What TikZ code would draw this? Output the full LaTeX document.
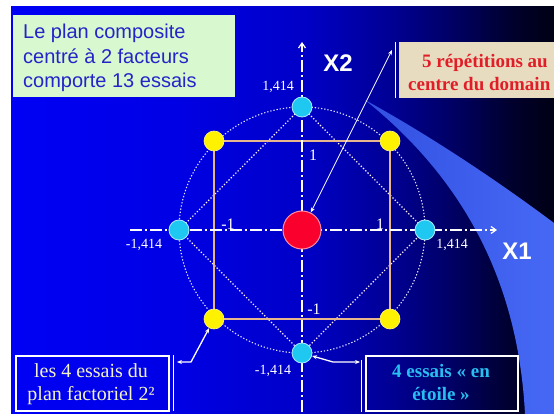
\documentclass[tikz,border=0pt]{standalone}
\usepackage{fontspec}
\setmainfont{Liberation Serif}
\newfontfamily\sansA{Liberation Sans}
\usetikzlibrary{arrows.meta}
\definecolor{swA}{RGB}{50,80,225}
\definecolor{swB}{RGB}{70,105,245}
\definecolor{mint}{RGB}{216,248,208}
\definecolor{introcol}{RGB}{36,36,200}
\definecolor{beige}{RGB}{232,220,192}
\definecolor{redtxt}{RGB}{225,30,40}
\definecolor{tan}{RGB}{232,182,140}
\definecolor{cyanC}{RGB}{30,200,240}
\definecolor{cyanL}{RGB}{170,235,255}
\definecolor{redC}{RGB}{250,0,45}
\definecolor{redL}{RGB}{255,140,160}
\definecolor{ltyel}{RGB}{242,242,196}
\definecolor{cyantxt}{RGB}{40,190,240}
\pgfdeclarehorizontalshading{bgshade}{100bp}{rgb(0bp)=(0,0,0.96); rgb(25bp)=(0,0,0.96); rgb(40bp)=(0,0,0.90); rgb(52bp)=(0,0,0.78); rgb(60bp)=(0,0,0.58); rgb(66bp)=(0,0,0.38); rgb(71bp)=(0,0,0.18); rgb(75bp)=(0,0,0.08); rgb(100bp)=(0,0,0.08)}
\tikzset{
  axisline/.style={white, line width=1.2pt, dash pattern=on 12pt off 3pt on 2pt off 3pt, -{Straight Barb[length=5pt,width=7pt]}},
  dotc/.style={white!90!blue, line width=1.1pt, dash pattern=on 1.3pt off 1.9pt},
  diam/.style={white!75!pink, line width=1.1pt, dash pattern=on 1.3pt off 1.9pt},
  sq/.style={tan, line width=1.3pt},
  yel/.style={circle, fill=yellow, draw=yellow!50!white, line width=0.6pt, minimum size=20pt, inner sep=0pt},
  cya/.style={circle, fill=cyanC, draw=cyanL, line width=0.8pt, minimum size=20pt, inner sep=0pt},
  redpt/.style={circle, fill=redC, draw=redL, line width=1pt, minimum size=38pt, inner sep=0pt},
  lab/.style={text=white, font=\fontsize{14}{14}\selectfont, inner sep=0pt},
  unit/.style={text=white, font=\fontsize{16}{16}\selectfont, inner sep=0pt},
  axl/.style={text=white, font=\sansA\bfseries\fontsize{24}{24}\selectfont, inner sep=0pt},
  conn/.style={white, line width=#1, {Stealth[length=5pt,width=4pt]}-{Stealth[length=5pt,width=4pt]}},
  introbox/.style={fill=mint, minimum width=222pt, minimum height=82pt, inner sep=0pt, anchor=north west},
  introtxt/.style={text=introcol, font=\sansA\fontsize{20}{24.5}\selectfont, align=left, inner sep=0pt, anchor=base west},
  repbox/.style={fill=beige, minimum width=170pt, minimum height=56pt, inner sep=0pt, anchor=north west},
  reptxt/.style={text=redtxt, font=\bfseries\fontsize{19}{19}\selectfont, inner sep=0pt},
  lowbox/.style={draw=white, line width=1.5pt, minimum width=#1, minimum height=55pt, inner sep=0pt, anchor=north west},
  facttxt/.style={text=ltyel, font=\fontsize{20}{23}\selectfont, align=center, inner sep=0pt, anchor=base},
  startxt/.style={text=cyantxt, font=\bfseries\fontsize{19}{23}\selectfont, align=center, inner sep=0pt, anchor=base},
}
\begin{document}
\begin{tikzpicture}[x=1pt,y=-1pt]
\useasboundingbox (0,0) rectangle (554,414);
\clip (0,0) rectangle (554,414);
\fill[white] (0,0) rectangle (554,414);
\shade[shading=bgshade] (11,7) rectangle (554,414);
\shade[left color=swA, right color=swB] (365,100) .. controls (420,130) and (490,175) .. (554,223) -- (554,414) -- (525,414) .. controls (520,320) and (490,200) .. (365,100) -- cycle;

% geometry
\coordinate (O) at (302,230);
\coordinate (pTL) at (214,141);
\coordinate (pTR) at (390,141);
\coordinate (pBL) at (214,319);
\coordinate (pBR) at (390,319);
\coordinate (pT) at (302,107);
\coordinate (pB) at (302,353);
\coordinate (pL) at (179,230);
\coordinate (pR) at (425,230);
\coordinate (axL) at (130,230);
\coordinate (axR) at (497,230);
\coordinate (axB) at (302,412);
\coordinate (axT) at (302,42);

\draw[dotc] (O) circle[radius=123pt];
\draw[diam] (pT) -- (pR) -- (pB) -- (pL) -- cycle;
\draw[sq] (pTL) -- (pTR) -- (pBR) -- (pBL) -- cycle;
\draw[axisline] (axL) -- (axR);
\draw[axisline] (axB) -- (axT);

% points
\node[redpt] (ctr) at (O) {};
\node[yel] (yTL) at (pTL) {};
\node[yel] (yTR) at (pTR) {};
\node[yel] (yBL) at (pBL) {};
\node[yel] (yBR) at (pBR) {};
\node[cya] (cT) at (pT) {};
\node[cya] (cB) at (pB) {};
\node[cya] (cL) at (pL) {};
\node[cya] (cR) at (pR) {};

% axis labels
\node[axl] (x2) at (338,63) {X2};
\node[axl] (x1) at (517,251) {X1};
\node[lab] (lT) at (278,87) {1,414};
\node[lab] (lR) at (452,245) {1,414};
\node[lab] (lL) at (144,245) {-1,414};
\node[lab] (lB) at (273,371) {-1,414};
\node[unit] (uT) at (313,155) {1};
\node[unit] (uL) at (228,224) {-1};
\node[unit] (uR) at (380,224) {1};
\node[unit] (uB) at (314,309) {-1};

% boxes
\node[introbox] (intro) at (13,15) {};
\node[introtxt] (introT) at (23,88) {Le plan composite\\centré à 2 facteurs\\comporte 13 essais};

\node[repbox] (rep) at (399,42) {};
\draw[white, line width=1pt] (395,42) -- (395,98);
\node[reptxt, anchor=base] (repA) at (485,68) {5 répétitions au};
\node[reptxt, anchor=base west] (repB) at (408,91) {centre du domain};

\node[lowbox=153pt] (fact) at (15,355) {};
\draw[white, line width=1pt] (173,355) -- (173,411);
\node[facttxt] (factT) at (91,400) {les 4 essais du\\plan factoriel 2²};

\node[lowbox=152pt] (star) at (365,355) {};
\draw[white, line width=1pt] (361,360) -- (361,412);
\node[startxt] (starT) at (441,400) {4 essais « en\\étoile »};

% connectors
\coordinate (a1) at (392,50);
\draw[conn=0.7pt] (a1) -- (ctr);
\coordinate (a2) at (177,362);
\coordinate (k2) at (191,362);
\draw[conn=1.3pt] (a2) -- (k2) -- (yBL);
\coordinate (k3) at (333,362);
\coordinate (a3) at (360,362);
\draw[conn=1.3pt] (cB) -- (k3) -- (a3);
\end{tikzpicture}
\end{document}
